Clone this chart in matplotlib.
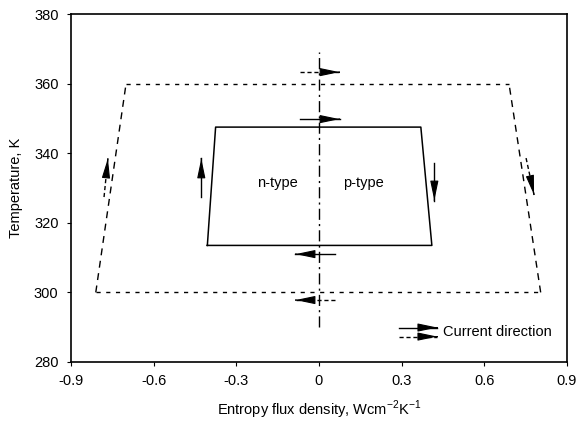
import numpy as np
import matplotlib
matplotlib.use('Agg')
import matplotlib.pyplot as plt

plt.rcParams['font.family'] = ['Liberation Sans', 'DejaVu Sans']
plt.rcParams['font.size'] = 10.5

# cycle corners (entropy flux density, temperature)
T_cold_outer, T_hot_outer = 300, 360
S_outer_hot = [-0.70, 0.69]
S_outer_cold = [-0.81, 0.805]
T_cold_inner, T_hot_inner = 313.5, 347.5
S_inner_hot = [-0.375, 0.37]
S_inner_cold = [-0.405, 0.41]
# centre line
S_mid = [0, 0]
T_mid = [290, 369]

# current direction arrows: (x0, y0, x1, y1), solid / dashed
arrows_solid = [(-0.07, 349.8, 0.075, 349.8),
                (0.06, 311.0, -0.085, 311.0),
                (-0.427, 327.4, -0.427, 338.5),
                (0.419, 337.2, 0.419, 326.4)]
arrows_dashed = [(-0.07, 363.3, 0.075, 363.3),
                 (0.06, 297.8, -0.085, 297.8),
                 (-0.78, 327.4, -0.766, 338.5),
                 (0.752, 338.6, 0.781, 328.0)]
legend_solid = (0.29, 289.9, 0.43, 289.9)
legend_dashed = (0.29, 287.3, 0.43, 287.3)

xticks = [-0.9, -0.6, -0.3, 0, 0.3, 0.6, 0.9]
xticklabels = ['-0.9', '-0.6', '-0.3', '0', '0.3', '0.6', '0.9']
yticks = [280, 300, 320, 340, 360, 380]

fig = plt.figure(figsize=(5.79, 4.22), dpi=100)
ax = fig.add_axes([0.1226, 0.1422, 0.8564, 0.8246])

dotted = (0, (3, 4))
dashed = (0, (5, 4))
dashdot = (0, (8, 3, 1.5, 3))

# outer cycle
ax.plot(S_outer_hot, [T_hot_outer] * 2, color='k', lw=1, ls=dotted)
ax.plot(S_outer_cold, [T_cold_outer] * 2, color='k', lw=1, ls=dotted)
ax.plot([S_outer_cold[0], S_outer_hot[0]], [T_cold_outer, T_hot_outer], color='k', lw=1, ls=dashed)
ax.plot([S_outer_cold[1], S_outer_hot[1]], [T_cold_outer, T_hot_outer], color='k', lw=1, ls=dashed)

# inner cycle
ax.plot([S_inner_cold[0], S_inner_hot[0], S_inner_hot[1], S_inner_cold[1], S_inner_cold[0]],
        [T_cold_inner, T_hot_inner, T_hot_inner, T_cold_inner, T_cold_inner],
        color='k', lw=1.1)

ax.plot(S_mid, T_mid, color='k', lw=1, ls=dashdot)

def arrow(a, ls):
    # shaft
    ax.plot([a[0], a[2]], [a[1], a[3]], color='k', lw=1, ls=ls)
    # solid filled head at the tip
    bx = a[2] - 0.01 * (a[2] - a[0])
    by = a[3] - 0.01 * (a[3] - a[1])
    ax.annotate('', xy=(a[2], a[3]), xytext=(bx, by),
                arrowprops=dict(arrowstyle='-|>,head_length=1.2,head_width=0.25',
                                mutation_scale=10, color='k', lw=0.8,
                                shrinkA=0, shrinkB=0))

for a in arrows_solid:
    arrow(a, '-')
for a in arrows_dashed:
    arrow(a, (0, (3, 2)))
arrow(legend_solid, '-')
arrow(legend_dashed, (0, (3, 2)))
ax.text(0.452, 288.6, 'Current direction', ha='left', va='center')

ax.text(-0.15, 331.5, 'n-type', ha='center', va='center')
ax.text(0.163, 331.5, 'p-type', ha='center', va='center')

ax.set_xlim(-0.9, 0.9)
ax.set_ylim(280, 380)
ax.set_xticks(xticks)
ax.set_xticklabels(xticklabels)
ax.set_yticks(yticks)
ax.tick_params(direction='out', length=3, width=0.8, labelsize=10.5, pad=6)
for s in ax.spines.values():
    s.set_linewidth(1.2)

ax.set_xlabel('Entropy flux density, Wcm$^{\\mathregular{-2}}$K$^{\\mathregular{-1}}$', labelpad=7)
ax.set_ylabel('Temperature, K', labelpad=8)

fig.savefig('out.png', dpi=100)
